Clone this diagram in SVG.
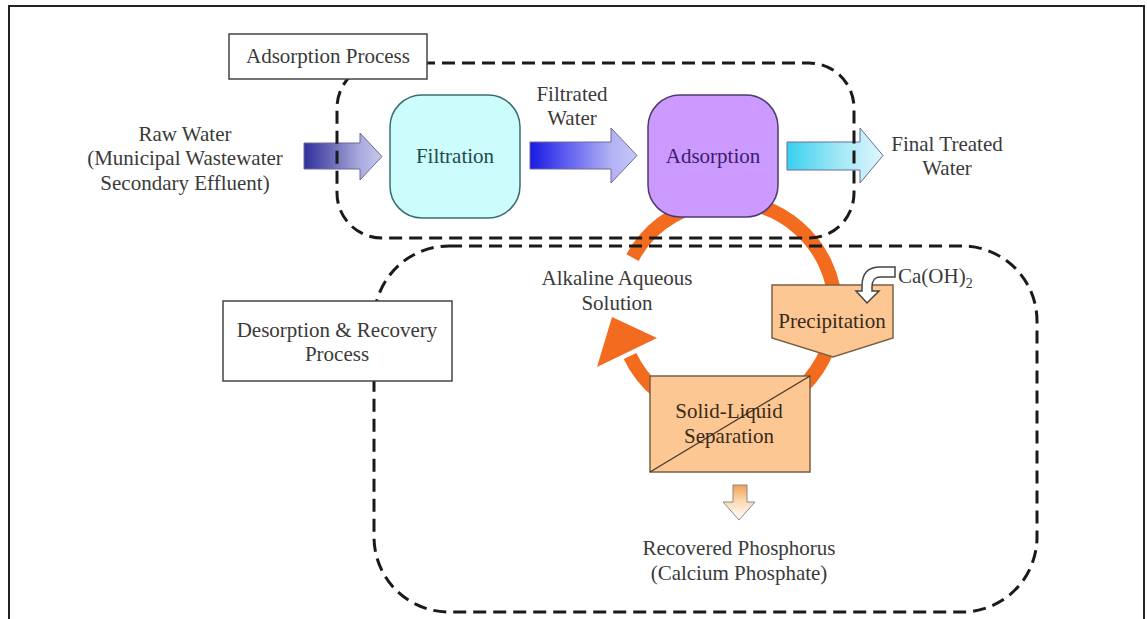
<svg xmlns="http://www.w3.org/2000/svg" width="1147" height="619" viewBox="0 0 1147 619">
<defs>
<style>
.t{font-family:"Liberation Serif","Times New Roman",serif;font-size:21px;fill:#3a3a3a;text-anchor:middle}
.dash{fill:none;stroke:#1a1a1a;stroke-width:3;stroke-dasharray:13 7}
.lbl{fill:#fff;stroke:#444;stroke-width:1.5}
.flow{stroke:#6a6a9a;stroke-width:1}
.orange{fill:#fcc792;stroke:#7a6040;stroke-width:1.5}
</style>
<linearGradient id="gRaw" x1="0" y1="0" x2="1" y2="0">
<stop offset="0" stop-color="#30309c"/><stop offset="0.35" stop-color="#6a6ab8"/><stop offset="0.7" stop-color="#a8a8dc"/><stop offset="1" stop-color="#c8c8ee"/>
</linearGradient>
<linearGradient id="gFil" x1="0" y1="0" x2="1" y2="0">
<stop offset="0" stop-color="#1a1ae4"/><stop offset="0.4" stop-color="#6a6af0"/><stop offset="0.75" stop-color="#b0b0f4"/><stop offset="1" stop-color="#c8c8f8"/>
</linearGradient>
<linearGradient id="gFin" x1="0" y1="0" x2="1" y2="0">
<stop offset="0" stop-color="#38d0ee"/><stop offset="0.5" stop-color="#9ae6f6"/><stop offset="1" stop-color="#e0f6fc"/>
</linearGradient>
<linearGradient id="gDown" x1="0" y1="0" x2="0" y2="1">
<stop offset="0" stop-color="#f4a050"/><stop offset="0.45" stop-color="#fcd8b0"/><stop offset="1" stop-color="#ffffff"/>
</linearGradient>
</defs>
<rect x="0" y="0" width="1147" height="619" fill="#fff"/>
<rect x="9" y="6" width="1135" height="630" fill="none" stroke="#222" stroke-width="2"/>

<g id="connectors">
<path d="M 632.5 257.6 A 108 108 0 1 1 630 356" fill="none" stroke="#f36b1f" stroke-width="14"/>
<polygon points="597,367 657,338 612,317" fill="#f36b1f"/>
<polygon class="flow" points="304,143 360,143 360,133 382,156.5 360,180 360,169 304,169" fill="url(#gRaw)"/>
<polygon class="flow" points="530,142 611,142 611,128 637,155.5 611,183 611,169 530,169" fill="url(#gFil)"/>
<polygon class="flow" points="787,142 860,142 860,128 883,155.5 860,183 860,170 787,170" fill="url(#gFin)"/>
<polygon points="733,485 747,485 747,502 755,502 739,520 723,502 733,502" fill="url(#gDown)" stroke="#888" stroke-width="1"/>
</g>

<g id="regions">
<rect class="dash" x="337" y="63" width="517" height="175" rx="45" ry="45"/>
<rect class="dash" x="374" y="246" width="663" height="366" rx="75" ry="75"/>
</g>

<g id="label-adsorption">
<rect class="lbl" x="229" y="34" width="198" height="45"/>
<text class="t" x="328" y="63">Adsorption Process</text>
</g>
<g id="label-desorption">
<rect class="lbl" x="223" y="301" width="229" height="80"/>
<text class="t" x="337" y="337">Desorption &amp; Recovery</text>
<text class="t" x="337" y="361">Process</text>
</g>

<g id="raw-water">
<text class="t" x="185" y="141">Raw Water</text>
<text class="t" x="185" y="165">(Municipal Wastewater</text>
<text class="t" x="185" y="190">Secondary Effluent)</text>
</g>
<g id="filtration">
<rect x="390" y="95" width="130" height="123" rx="32" ry="32" fill="#ccfcfc" stroke="#3c6c70" stroke-width="1.5"/>
<text class="t" x="455" y="163" style="fill:#1e4a50">Filtration</text>
</g>
<g id="filtrated-water">
<text class="t" x="572" y="101">Filtrated</text>
<text class="t" x="572" y="125">Water</text>
</g>
<g id="adsorption">
<rect x="648" y="95" width="130" height="122" rx="32" ry="32" fill="#cc99ff" stroke="#4c3c6c" stroke-width="1.5"/>
<text class="t" x="713" y="163" style="fill:#3c1c6c">Adsorption</text>
</g>
<g id="final-water">
<text class="t" x="947" y="151">Final Treated</text>
<text class="t" x="947" y="175">Water</text>
</g>
<g id="alkaline">
<text class="t" x="617" y="285">Alkaline Aqueous</text>
<text class="t" x="617" y="310">Solution</text>
</g>
<g id="precipitation">
<polygon class="orange" points="772,285 893,285 893,338 833,357 772,338"/>
<text class="t" x="832" y="328" style="fill:#3a2a1a">Precipitation</text>
</g>
<g id="caoh2">
<path d="M 895 267 L 880 267 C 868 267 862 274 862 286 L 862 291 L 856 291 L 867 303 L 879 291 L 872 291 L 872 287 C 872 281 875 277 880 277 L 895 277 Z" fill="#fff" stroke="#444" stroke-width="1.5"/>
<text class="t" x="898" y="283" style="text-anchor:start">Ca(OH)<tspan font-size="14" dy="5">2</tspan></text>
</g>
<g id="solid-liquid">
<rect class="orange" x="650" y="376" width="160" height="96"/>
<line x1="650" y1="472" x2="810" y2="376" stroke="#4a3a2a" stroke-width="1.3"/>
<text class="t" x="729" y="418" style="fill:#3a2a1a">Solid-Liquid</text>
<text class="t" x="729" y="443" style="fill:#3a2a1a">Separation</text>
</g>
<g id="recovered">
<text class="t" x="739" y="555">Recovered Phosphorus</text>
<text class="t" x="739" y="580">(Calcium Phosphate)</text>
</g>
</svg>
